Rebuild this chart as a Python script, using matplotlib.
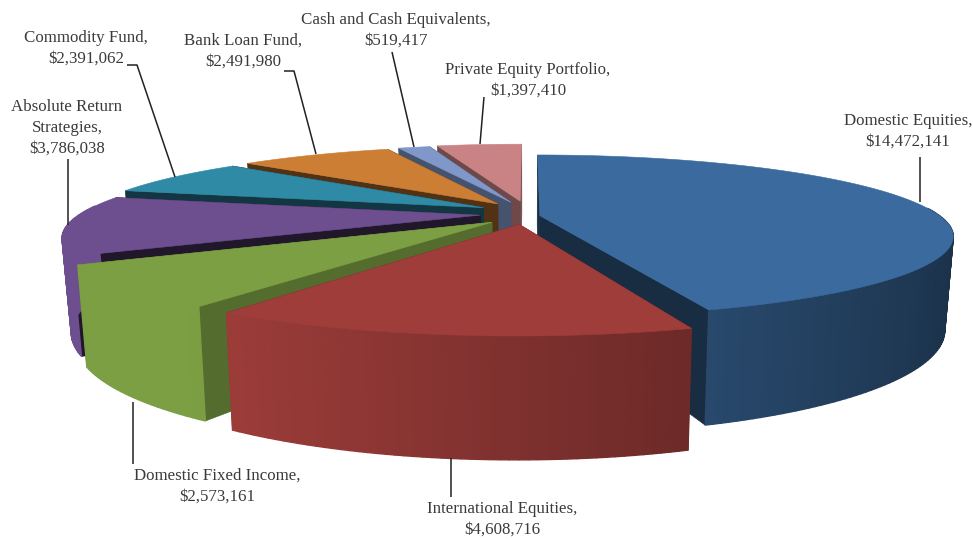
import numpy as np
import matplotlib
matplotlib.use("Agg")
import matplotlib.pyplot as plt
from matplotlib.patches import Polygon

names = ["Domestic Equities", "International Equities", "Domestic Fixed Income",
         "Absolute Return\nStrategies", "Commodity Fund", "Bank Loan Fund",
         "Cash and Cash Equivalents", "Private Equity Portfolio"]
values = [14472141, 4608716, 2573161, 3786038, 2391062, 2491980, 519417, 1397410]

colors = ["#3A6A9E", "#9E3D3A", "#7C9F43", "#6D4E8F", "#2F8AA5", "#CC7E35", "#7F97C9", "#C98384"]
side_dark = [0.42, 0.7, 0.68, 0.3, 0.4, 0.4, 0.55, 0.55]
explode = [0.03, 0.16, 0.12, 0.12, 0.127, 0.134, 0.14, 0.15]
nudge_y = [4, 0, 4, 2, 0, 0, 0, 0]
draw_order = [7, 6, 5, 4, 3, 2, 0, 1]

# pie projection, in pixels
CX, CY = 528, 212
RX, RY = 400, 76
PERSP = 0.25
DEPTH = 88
BOTTOM_X = 0.98

# where the labels and leaders sit
label_xy = [(908, 121), (502, 509), (217, 476), (67, 107), (86, 38), (243, 41), (396, 20), (528, 70)]
label_gap = 21
leaders = [
    [(920, 157), (920, 202)],
    [(451, 458), (451, 497)],
    [(133, 402), (133, 464)],
    [(68, 159), (68, 225)],
    [(127, 65), (137, 65), (175, 177)],
    [(284, 71), (294, 71), (316, 154)],
    [(392, 52), (414, 147)],
    [(484, 97), (480, 144)],
]


def project(u, v, z=0.0, dy=0):
    s = 1 / (1 - PERSP * v)
    x = RX * u * s
    y = RY * v * s + z * DEPTH * s
    if z:
        x = x * BOTTOM_X
    return CX + x, CY + y + dy


def shade(color, f):
    rgb = np.array(matplotlib.colors.to_rgb(color))
    return tuple(np.clip(rgb * f, 0, 1))


def draw_slice(ax, start, end, color, dark, ex, dy):
    mid = (start + end) / 2
    ou, ov = ex * np.sin(mid), -ex * np.cos(mid)
    th = np.linspace(start, end, max(int(np.degrees(end - start)), 3) + 1)
    us = ou + np.sin(th)
    vs = ov - np.cos(th)
    apex_top = project(ou, ov, 0, dy)
    apex_bot = project(ou, ov, 1, dy)

    for t in (start, end):
        u, v = ou + np.sin(t), ov - np.cos(t)
        pts = [apex_top, project(u, v, 0, dy), project(u, v, 1, dy), apex_bot]
        ax.add_patch(Polygon(pts, closed=True, fc=shade(color, dark), ec=shade(color, dark), lw=0.5))

    # outer wall, lit from the left
    for i in range(len(th) - 1):
        if vs[i] < -0.1 and vs[i + 1] < -0.1:
            continue
        f = min(1.0, 0.8 - 0.35 * np.sin(th[i]))
        pts = [project(us[i], vs[i], 0, dy), project(us[i + 1], vs[i + 1], 0, dy),
               project(us[i + 1], vs[i + 1], 1, dy), project(us[i], vs[i], 1, dy)]
        ax.add_patch(Polygon(pts, closed=True, fc=shade(color, f), ec=shade(color, f), lw=1.0))

    top = [apex_top] + [project(a, b, 0, dy) for a, b in zip(us, vs)]
    ax.add_patch(Polygon(top, closed=True, fc=color, ec=color, lw=0.4))


def main():
    fig = plt.figure(figsize=(9.73, 5.39), dpi=100)
    ax = fig.add_axes([0, 0, 1, 1])
    ax.set_xlim(0, 973)
    ax.set_ylim(539, 0)
    ax.axis("off")

    edges = np.concatenate([[0], np.cumsum(values)]) / np.sum(values) * 2 * np.pi
    for i in draw_order:
        draw_slice(ax, edges[i], edges[i + 1], colors[i], side_dark[i], explode[i], nudge_y[i])

    for line in leaders:
        xs, ys = zip(*line)
        ax.plot(xs, ys, color="#222222", lw=1.1, solid_capstyle="butt")

    for name, val, (x, y) in zip(names, values, label_xy):
        lines = (name + ",").split("\n") + [f"${val:,}"]
        for k, txt in enumerate(lines):
            ax.text(x, y + k * label_gap, txt, ha="center", va="center",
                    family="Liberation Serif", fontsize=12.2, color="#3a3a3a")

    fig.savefig("out.png", dpi=100)


if __name__ == "__main__":
    main()
